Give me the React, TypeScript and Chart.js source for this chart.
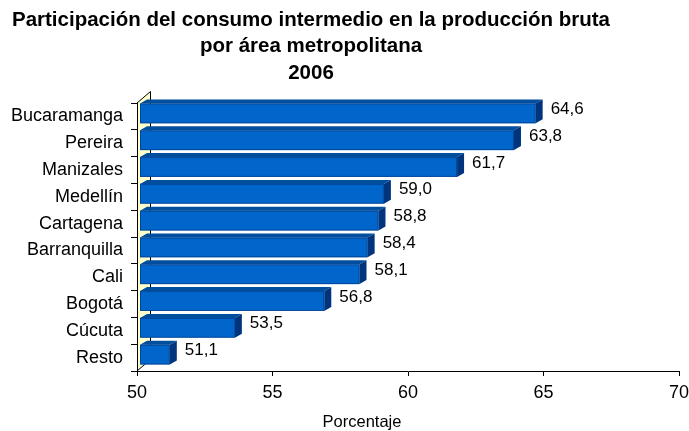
import { useEffect, useRef } from 'react';
import { Chart, registerables } from 'chart.js';

Chart.register(...registerables);

const categories = ['Bucaramanga', 'Pereira', 'Manizales', 'Medellín', 'Cartagena', 'Barranquilla', 'Cali', 'Bogotá', 'Cúcuta', 'Resto'];
const values = [64.6, 63.8, 61.7, 59.0, 58.8, 58.4, 58.1, 56.8, 53.5, 51.1];
const xTicks = [50, 55, 60, 65, 70];
const titleLines = ['Participación del consumo intermedio en la producción bruta', 'por área metropolitana', '2006'];
const axisTitle = 'Porcentaje';

const FONT = '"Liberation Sans", Arial, sans-serif';
const FRONT = '#0066CC';
const TOP = '#004E9E';
const SIDE = '#00357E';
const WALL = '#FFFFCC';

const fmt = (v: number) => v.toFixed(1).replace('.', ',');

const threeD = {
  id: 'threeD',
  beforeDatasetsDraw(chart: any) {
    const { ctx, chartArea, scales } = chart;
    const x0 = chartArea.left;
    const top = chartArea.top;
    const bottom = chartArea.bottom;
    const wdx = 13.5, wdy = 11.5;
    ctx.save();
    // side wall
    ctx.beginPath();
    ctx.moveTo(x0, top);
    ctx.lineTo(x0 + wdx, top - wdy);
    ctx.lineTo(x0 + wdx, bottom - wdy);
    ctx.lineTo(x0, bottom);
    ctx.closePath();
    ctx.fillStyle = WALL;
    ctx.fill();
    ctx.strokeStyle = '#000';
    ctx.lineWidth = 1;
    ctx.beginPath();
    ctx.moveTo(x0, top);
    ctx.lineTo(x0 + wdx, top - wdy);
    ctx.lineTo(x0 + wdx, bottom - wdy);
    ctx.lineTo(x0, bottom);
    ctx.moveTo(x0 + 0.5, top);
    ctx.lineTo(x0 + 0.5, bottom);
    ctx.stroke();

    // 3D bars
    const meta = chart.getDatasetMeta(0);
    const basePx = scales.x.getPixelForValue(scales.x.min);
    const dx = 7, dy = 4;
    meta.data.forEach((el: any, i: number) => {
      const { x, y, height } = el.getProps(['x', 'y', 'height'], true);
      const l = basePx + 3;
      const r = x + 3;
      const t = y - height / 2 - 3;
      const b = y + height / 2 - 3;
      ctx.fillStyle = FRONT;
      ctx.fillRect(l, t, r - l, b - t);
      ctx.fillStyle = TOP;
      ctx.beginPath();
      ctx.moveTo(l, t);
      ctx.lineTo(l + dx, t - dy);
      ctx.lineTo(r + dx, t - dy);
      ctx.lineTo(r, t);
      ctx.closePath();
      ctx.fill();
      ctx.fillStyle = SIDE;
      ctx.beginPath();
      ctx.moveTo(r, t);
      ctx.lineTo(r + dx, t - dy);
      ctx.lineTo(r + dx, b - dy);
      ctx.lineTo(r, b);
      ctx.closePath();
      ctx.fill();
      ctx.strokeStyle = 'rgba(0,50,120,0.6)';
      ctx.lineWidth = 1;
      ctx.strokeRect(l + 0.5, t + 0.5, r - l - 1, b - t - 1);
      // label
      ctx.fillStyle = '#000';
      ctx.font = `17px ${FONT}`;
      ctx.textAlign = 'left';
      ctx.textBaseline = 'middle';
      ctx.fillText(fmt(values[i]), x + 18, y - 7);
    });
    ctx.restore();
  },
  afterDraw(chart: any) {
    const { ctx } = chart;
    ctx.save();
    ctx.fillStyle = '#000';
    ctx.textAlign = 'center';
    ctx.textBaseline = 'middle';
    ctx.font = `bold 20.5px ${FONT}`;
    const ys = [20, 46, 73];
    titleLines.forEach((line, i) => ctx.fillText(line, 311, ys[i]));
    ctx.font = `16.5px ${FONT}`;
    ctx.fillText(axisTitle, 362, 422);
    ctx.restore();
  },
};

export default function App() {
  const ref = useRef<HTMLCanvasElement | null>(null);
  useEffect(() => {
    document.body.style.margin = '0';
    const canvas = ref.current!;
    const chart = new Chart(canvas, {
      type: 'bar',
      data: {
        labels: categories,
        datasets: [
          {
            data: values,
            base: xTicks[0],
            backgroundColor: 'rgba(0,0,0,0)',
            borderWidth: 0,
            barPercentage: 0.74,
            categoryPercentage: 1,
          },
        ],
      },
      options: {
        indexAxis: 'y',
        responsive: false,
        animation: false,
        devicePixelRatio: 1,
        layout: { padding: { top: 103, right: 10, bottom: 0, left: 0 } },
        plugins: { legend: { display: false }, tooltip: { enabled: false }, title: { display: false } },
        scales: {
          x: {
            type: 'linear',
            min: 50,
            max: 70,
            afterBuildTicks: (s: any) => {
              s.ticks = xTicks.map((v) => ({ value: v }));
            },
            ticks: { color: '#000', font: { family: FONT, size: 18 }, padding: 6, maxRotation: 0, autoSkip: false },
            grid: { drawOnChartArea: false, drawTicks: true, tickLength: 5, color: '#000' },
            border: { display: true, color: '#000' },
            afterFit: (s: any) => {
              s.height = 60;
              s.paddingLeft = 0;
              s.paddingRight = 0;
            },
          },
          y: {
            type: 'category',
            offset: true,
            ticks: { color: '#000', font: { family: FONT, size: 18 }, padding: 8, autoSkip: false },
            grid: { drawOnChartArea: false, drawTicks: true, tickLength: 6, color: '#000', offset: true },
            border: { display: true, color: '#000' },
            afterFit: (s: any) => {
              s.width = 137;
              s.paddingTop = 0;
              s.paddingBottom = 0;
            },
          },
        },
      },
      plugins: [threeD],
    } as any);
    return () => chart.destroy();
  }, []);
  return <canvas ref={ref} width={689} height={431} style={{ display: 'block', width: 689, height: 431 }} />;
}
